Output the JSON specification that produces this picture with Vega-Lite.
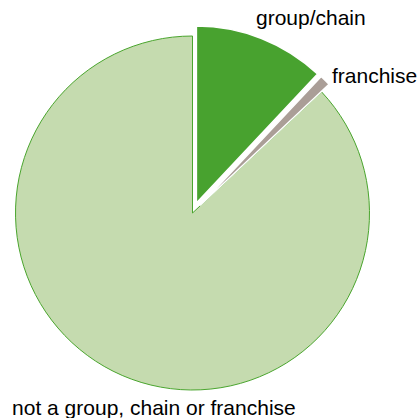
{
  "$schema": "https://vega.github.io/schema/vega-lite/v6.json",
  "width": 354,
  "height": 354,
  "autosize": "none",
  "padding": {"left": 15.5, "top": 36, "right": 48.5, "bottom": 28},
  "background": "white",
  "config": {"view": {"stroke": null}},
  "data": {
    "values": [
      {"category": "group/chain", "share": 12},
      {"category": "franchise", "share": 1},
      {"category": "not a group, chain or franchise", "share": 87}
    ]
  },
  "encoding": {
    "theta": {"field": "share", "type": "quantitative", "stack": true}
  },
  "layer": [
    {
      "mark": {"type": "arc", "outerRadius": 177, "fill": "#c5dbaf", "stroke": "#4aa52e", "strokeWidth": 1},
      "encoding": {
        "opacity": {"condition": {"test": "datum.category === 'not a group, chain or franchise'", "value": 1}, "value": 0}
      }
    },
    {
      "mark": {"type": "arc", "outerRadius": 177, "fill": "#48a22f", "stroke": "white", "strokeWidth": 1.5, "xOffset": 3.9, "yOffset": -9.9},
      "encoding": {
        "opacity": {"condition": {"test": "datum.category === 'group/chain'", "value": 1}, "value": 0}
      }
    },
    {
      "mark": {"type": "arc", "outerRadius": 177, "fill": "#aa9e97", "stroke": "white", "strokeWidth": 1.5, "xOffset": 7.5, "yOffset": -7.5},
      "encoding": {
        "opacity": {"condition": {"test": "datum.category === 'franchise'", "value": 1}, "value": 0}
      }
    },
    {
      "mark": {"type": "text", "radius": 177, "align": "left", "baseline": "alphabetic", "dx": -1.7, "dy": -23.4, "font": "Liberation Sans", "fontSize": 21, "color": "black"},
      "encoding": {
        "text": {"condition": {"test": "datum.category === 'group/chain'", "value": "group/chain"}, "value": ""}
      }
    },
    {
      "mark": {"type": "text", "radius": 195, "align": "left", "baseline": "alphabetic", "dx": 1.6, "dy": 8, "font": "Liberation Sans", "fontSize": 21, "color": "black"},
      "encoding": {
        "text": {"condition": {"test": "datum.category === 'franchise'", "value": "franchise"}, "value": ""}
      }
    },
    {
      "mark": {"type": "text", "radius": 195, "align": "left", "baseline": "alphabetic", "dx": -103, "dy": 23, "font": "Liberation Sans", "fontSize": 21, "color": "black"},
      "encoding": {
        "text": {"condition": {"test": "datum.category === 'not a group, chain or franchise'", "value": "not a group, chain or franchise"}, "value": ""}
      }
    }
  ]
}
